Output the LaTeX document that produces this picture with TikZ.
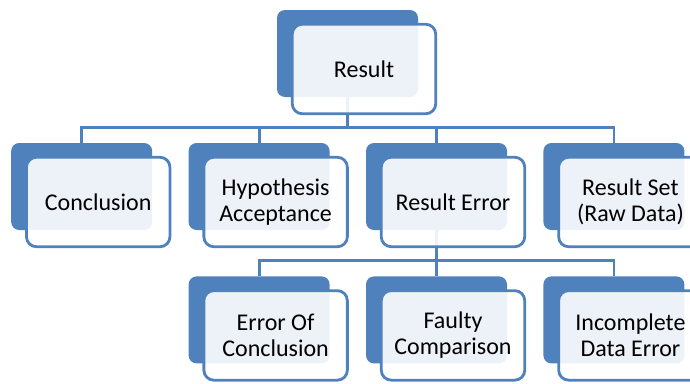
\documentclass[tikz,border=0pt]{standalone}
\usepackage{fontspec}
\setmainfont{Carlito}
\usetikzlibrary{positioning,backgrounds}
\definecolor{accblue}{HTML}{4F81BD}

\tikzset{
  back/.style={rectangle, rounded corners=8pt, fill=accblue, minimum width=141pt, minimum height=87pt, inner sep=0pt},
  front/.style={rectangle, rounded corners=10pt, draw=accblue, line width=2.8pt, fill=white, fill opacity=0.9, text opacity=1,
    minimum width=143.5pt, minimum height=89.5pt, align=center, font=\fontsize{24}{26}\selectfont},
  conn/.style={draw=accblue, line width=2.8pt}
}

\begin{document}
\begin{tikzpicture}[x=1pt, y=1pt, node distance=46pt and 36pt]
    \useasboundingbox (0,0) rectangle (690,-383);
    % back boxes
    \node[back] (res) at (347.5,-53.5) {};
    \node[back] (rerr) at (436.5,-186.5) {};
    \node[back, left=of rerr] (hyp) {};
    \node[back, left=of hyp] (concl) {};
    \node[back, right=of rerr] (rset) {};
    \node[back, below=of rerr] (faulty) {};
    \node[back, left=of faulty] (eoc) {};
    \node[back, right=of faulty] (incomp) {};
    % front boxes with the text
    \foreach \n/\t in {res/Result, concl/Conclusion, hyp/{Hypothesis\\Acceptance}, rerr/{Result Error},
        rset/{Result Set\\(Raw Data)}, eoc/{Error Of\\Conclusion}, faulty/{Faulty\\Comparison}, incomp/{Incomplete\\Data Error}}
        \node[front] (\n-f) at ([shift={(16.5,-15.5)}]\n) {\t};
    % connectors
    \begin{scope}[on background layer]
        \foreach \c in {concl,hyp,rerr,rset}
            \draw[conn] (res.south) -- ++(0,-30) -| (\c.north);
        \foreach \c in {eoc,faulty,incomp}
            \draw[conn] (rerr.south) -- ++(0,-30) -| (\c.north);
    \end{scope}
\end{tikzpicture}
\end{document}
